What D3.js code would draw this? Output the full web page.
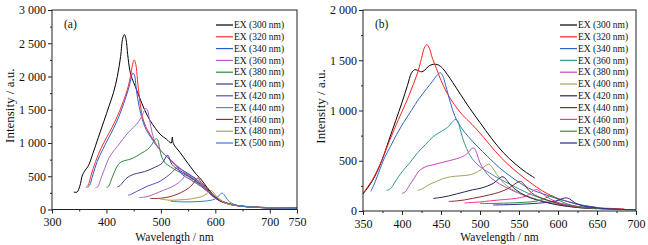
<!DOCTYPE html>
<html>
<head>
<meta charset="utf-8">
<script src="https://cdn.jsdelivr.net/npm/d3@7/dist/d3.min.js"></script>
<style>
    body { margin: 0; background: #fff; }
    svg { display: block; font-family: "Liberation Serif", "Times New Roman", serif; }
    .tickLabel { font-size: 12px; fill: #111; }
    .axisTitle { font-size: 11.5px; fill: #111; }
    .yTitle { font-size: 13px; fill: #111; }
    .legendText { font-size: 9.5px; fill: #111; }
</style>
</head>
<body>
<div id="chart"></div>
<script>
    "use strict";

    var legendLabels = ["EX (300 nm)", "EX (320 nm)", "EX (340 nm)", "EX (360 nm)", "EX (380 nm)", "EX (400 nm)",
        "EX (420 nm)", "EX (440 nm)", "EX (460 nm)", "EX (480 nm)", "EX (500 nm)"];

    // panel (a): [wavelength nm, intensity a.u.]
    var a300 = [[340, 262], [346, 262], [351, 350], [356, 520], [361, 590], [367, 660], [375, 840], [385, 1080], [395, 1320], [405, 1560], [413, 1760], [420, 2000], [426, 2300], [430, 2580], [433, 2630], [436, 2560], [439, 2330], [443, 2090], [447, 1970], [453, 1850], [460, 1700], [470, 1500], [480, 1340], [490, 1220], [500, 1120], [510, 1060], [519, 1000], [521, 1090], [523, 990], [535, 860], [550, 690], [565, 530], [575, 440], [585, 330], [595, 230], [605, 160], [620, 100], [640, 60], [670, 35], [700, 25], [750, 20]];
    var a320 = [[362, 330], [366, 360], [372, 520], [380, 720], [390, 920], [400, 1080], [410, 1230], [420, 1400], [428, 1560], [435, 1720], [440, 1850], [444, 2000], [448, 2180], [451, 2250], [454, 2180], [457, 1950], [461, 1650], [466, 1400], [472, 1250], [480, 1130], [490, 1000], [500, 880], [515, 760], [530, 640], [545, 560], [560, 480], [570, 420], [580, 330], [590, 240], [600, 170], [615, 110], [630, 70], [660, 40], [700, 25], [750, 20]];
    var a340 = [[365, 330], [369, 360], [375, 520], [383, 720], [393, 900], [403, 1060], [413, 1220], [423, 1400], [432, 1600], [440, 1800], [445, 1960], [448, 2050], [451, 2030], [455, 1800], [460, 1550], [466, 1350], [473, 1200], [482, 1080], [492, 960], [505, 840], [520, 730], [535, 620], [550, 540], [563, 470], [575, 380], [585, 290], [595, 210], [608, 140], [625, 85], [650, 50], [700, 28], [750, 20]];
    var a360 = [[380, 330], [384, 340], [390, 470], [397, 620], [405, 780], [415, 900], [425, 1000], [435, 1110], [445, 1200], [455, 1280], [462, 1360], [468, 1460], [472, 1520], [475, 1500], [479, 1350], [484, 1150], [490, 1000], [498, 900], [508, 820], [520, 720], [535, 620], [550, 520], [565, 440], [578, 360], [590, 260], [600, 180], [615, 110], [635, 65], [660, 40], [700, 25], [750, 20]];
    var a380 = [[400, 330], [404, 350], [410, 470], [416, 590], [422, 680], [428, 720], [436, 740], [445, 760], [455, 800], [465, 850], [475, 900], [482, 960], [488, 1040], [492, 1065], [495, 1030], [498, 900], [502, 780], [508, 700], [518, 640], [530, 580], [545, 520], [560, 450], [573, 380], [585, 290], [597, 200], [610, 130], [630, 75], [660, 40], [700, 25], [750, 18]];
    var a400 = [[420, 340], [425, 360], [432, 430], [440, 490], [450, 530], [460, 550], [470, 570], [480, 600], [490, 640], [500, 680], [506, 740], [510, 800], [513, 815], [516, 760], [520, 680], [528, 620], [540, 560], [555, 480], [568, 400], [580, 320], [592, 230], [605, 150], [620, 95], [645, 55], [680, 32], [750, 18]];
    var a420 = [[440, 215], [446, 230], [455, 270], [465, 310], [475, 350], [485, 380], [495, 410], [505, 460], [515, 520], [523, 580], [528, 620], [531, 630], [534, 580], [540, 520], [550, 470], [562, 410], [575, 340], [587, 260], [600, 170], [615, 110], [635, 65], [670, 35], [750, 18]];
    var a440 = [[460, 180], [468, 185], [478, 200], [490, 240], [505, 290], [520, 340], [532, 400], [540, 460], [545, 520], [548, 540], [551, 500], [556, 440], [565, 400], [577, 340], [588, 260], [600, 170], [615, 105], [640, 60], [680, 30], [750, 18]];
    var a460 = [[480, 165], [488, 165], [500, 170], [515, 190], [530, 230], [545, 290], [555, 350], [562, 420], [566, 465], [569, 470], [572, 430], [578, 380], [586, 300], [596, 200], [608, 130], [625, 80], [650, 50], [700, 28], [750, 18]];
    var a480 = [[498, 160], [505, 150], [515, 140], [525, 140], [535, 145], [545, 150], [555, 160], [565, 175], [575, 195], [583, 230], [589, 270], [592, 285], [595, 270], [600, 220], [607, 160], [615, 110], [630, 70], [655, 45], [700, 28], [750, 18]];
    var a500 = [[518, 125], [525, 120], [540, 115], [555, 115], [570, 120], [585, 130], [595, 145], [602, 170], [607, 210], [611, 245], [614, 240], [618, 200], [623, 140], [630, 95], [640, 60], [660, 40], [700, 25], [750, 15]];

    // panel (b)
    var b300 = [[350, 170], [355, 220], [362, 300], [368, 390], [375, 520], [383, 700], [392, 900], [400, 1080], [407, 1250], [412, 1370], [416, 1405], [420, 1400], [425, 1385], [429, 1400], [434, 1440], [440, 1460], [446, 1455], [452, 1420], [458, 1360], [465, 1280], [475, 1160], [487, 1020], [500, 880], [515, 720], [530, 580], [545, 470], [558, 390], [570, 330]];
    var b320 = [[350, 175], [355, 230], [362, 310], [368, 400], [375, 520], [383, 680], [391, 830], [400, 990], [408, 1130], [415, 1270], [421, 1400], [426, 1550], [429, 1630], [432, 1655], [435, 1620], [439, 1520], [444, 1420], [450, 1300], [458, 1170], [467, 1060], [477, 960], [490, 860], [505, 730], [520, 590], [535, 470], [550, 370], [565, 280], [580, 200], [595, 140], [610, 100], [625, 65], [640, 45], [655, 30], [670, 25], [685, 20]];
    var b340 = [[360, 195], [364, 260], [370, 380], [377, 520], [385, 640], [393, 760], [402, 880], [412, 1000], [422, 1120], [432, 1220], [440, 1300], [446, 1360], [449, 1375], [452, 1350], [456, 1250], [462, 1080], [468, 940], [475, 840], [485, 740], [497, 640], [510, 540], [525, 430], [540, 340], [555, 260], [570, 200], [585, 160], [600, 120], [615, 90], [630, 60], [650, 35]];
    var b360 = [[380, 205], [385, 220], [392, 300], [400, 390], [410, 480], [420, 580], [430, 660], [440, 740], [450, 790], [458, 830], [464, 880], [468, 910], [471, 905], [474, 830], [478, 720], [483, 620], [490, 520], [500, 440], [512, 380], [525, 320], [540, 260], [555, 200], [570, 150], [585, 110], [600, 80], [620, 50], [640, 30], [660, 20]];
    var b380 = [[400, 175], [404, 190], [410, 260], [416, 330], [422, 400], [430, 440], [440, 460], [450, 480], [460, 500], [470, 520], [480, 550], [486, 590], [490, 625], [493, 620], [496, 570], [500, 480], [506, 400], [514, 330], [525, 270], [540, 210], [555, 160], [570, 120], [590, 80], [610, 50], [640, 25]];
    var b400 = [[420, 205], [426, 220], [434, 260], [443, 290], [452, 320], [462, 340], [475, 350], [487, 360], [497, 390], [504, 430], [509, 460], [512, 465], [516, 430], [522, 360], [530, 280], [540, 220], [553, 170], [567, 130], [582, 95], [600, 65], [620, 40], [645, 22]];
    var b420 = [[440, 125], [450, 135], [460, 150], [470, 170], [480, 190], [490, 210], [500, 225], [510, 250], [518, 280], [524, 320], [528, 340], [531, 335], [536, 290], [543, 230], [552, 180], [565, 130], [580, 95], [600, 60], [625, 35], [650, 22]];
    var b440 = [[460, 95], [470, 100], [480, 110], [490, 125], [500, 140], [512, 160], [524, 185], [535, 220], [543, 260], [549, 290], [552, 295], [556, 270], [562, 210], [570, 160], [582, 120], [600, 75], [625, 40], [650, 25], [680, 15]];
    var b460 = [[480, 80], [490, 85], [500, 90], [512, 100], [525, 110], [540, 120], [553, 135], [562, 160], [568, 200], [572, 215], [576, 200], [582, 160], [590, 120], [602, 80], [620, 50], [645, 30], [670, 20], [690, 12]];
    var b480 = [[500, 75], [515, 75], [530, 78], [545, 82], [560, 88], [572, 98], [580, 115], [587, 140], [591, 150], [595, 140], [601, 110], [610, 75], [625, 45], [645, 28], [670, 18], [700, 12]];
    var b500 = [[517, 60], [530, 62], [545, 65], [560, 70], [575, 78], [590, 90], [600, 105], [606, 125], [611, 130], [615, 120], [621, 85], [630, 55], [645, 35], [665, 22], [700, 12]];

    var xTicksA = [300, 400, 500, 600, 700, 750];
    var xMinorA = [350, 450, 550, 650];
    var yTicksA = [0, 500, 1000, 1500, 2000, 2500, 3000];
    var yMinorA = [250, 750, 1250, 1750, 2250, 2750];

    var xTicksB = [350, 400, 450, 500, 550, 600, 650, 700];
    var xMinorB = [375, 425, 475, 525, 575, 625, 675];
    var yTicksB = [0, 500, 1000, 1500, 2000];
    var yMinorB = [250, 750, 1250, 1750];

    var colorsA = ["#000000", "#ff2a2a", "#2a5fd0", "#b064c8", "#2f8a3a", "#3a3a80", "#5b48c8", "#a466b8", "#a02a2a", "#a8a048", "#3a7ad0"];
    var colorsB = ["#000000", "#ff2020", "#2f66c8", "#349a94", "#c04cc0", "#a8a060", "#252560", "#7a3030", "#ff3090", "#2e9040", "#2a2a90"];

    var width = 648;
    var height = 245;

    var svg = d3.select("#chart").append("svg")
        .attr("width", width)
        .attr("height", height);

    svg.append("rect").attr("width", width).attr("height", height).attr("fill", "#fff");

    var fmt = d3.formatLocale({ decimal: ".", thousands: " ", grouping: [3], currency: ["", ""] }).format(",");

    function drawPanel(p) {
        var x = d3.scaleLinear().domain(p.xDomain).range([p.left, p.right]);
        var y = d3.scaleLinear().domain(p.yDomain).range([p.bottom, p.top]);
        var g = svg.append("g");

        var line = d3.line()
            .x(function (d) { return x(d[0]); })
            .y(function (d) { return y(d[1]); })
            .curve(d3.curveCatmullRom.alpha(0.5));

        g.selectAll(".curve")
            .data(p.series)
            .enter()
            .append("path")
            .attr("class", "curve")
            .attr("d", line)
            .attr("fill", "none")
            .attr("stroke", function (d, i) { return p.colors[i]; })
            .attr("stroke-width", 1);

        // frame
        g.append("rect")
            .attr("x", p.left)
            .attr("y", p.top)
            .attr("width", p.right - p.left)
            .attr("height", p.bottom - p.top)
            .attr("fill", "none")
            .attr("stroke", "#222")
            .attr("stroke-width", 1);

        var xAxis = d3.axisBottom(x).tickValues(p.xTicks).tickSize(4).tickPadding(4).tickFormat(d3.format("d"));
        var xMinor = d3.axisBottom(x).tickValues(p.xMinor).tickSize(2).tickFormat("");
        var yAxis = d3.axisLeft(y).tickValues(p.yTicks).tickSize(4).tickPadding(2).tickFormat(fmt);
        var yMinor = d3.axisLeft(y).tickValues(p.yMinor).tickSize(2).tickFormat("");

        [[xAxis, "translate(0," + p.bottom + ")"], [xMinor, "translate(0," + p.bottom + ")"],
            [yAxis, "translate(" + p.left + ",0)"], [yMinor, "translate(" + p.left + ",0)"]].forEach(function (a) {
            var ax = g.append("g").attr("transform", a[1]).call(a[0]);
            ax.attr("font-family", null).attr("font-size", null);
            ax.select(".domain").remove();
            ax.selectAll("line").attr("stroke", "#222");
            ax.selectAll("text")
                .attr("class", "tickLabel")
                .attr("fill", null);
        });

        g.append("text")
            .attr("class", "axisTitle")
            .attr("text-anchor", "middle")
            .attr("x", (p.left + p.right) / 2)
            .attr("y", 241)
            .text("Wavelength / nm");

        g.append("text")
            .attr("class", "yTitle")
            .attr("text-anchor", "middle")
            .attr("transform", "translate(" + (p.left - 38) + "," + ((p.top + p.bottom) / 2 - 4) + ") rotate(-90)")
            .text("Intensity / a.u.");

        g.append("text")
            .attr("class", "axisTitle")
            .attr("x", p.left + 12)
            .attr("y", p.top + 18)
            .text(p.tag);

        var legend = g.selectAll(".legendRow")
            .data(legendLabels)
            .enter()
            .append("g")
            .attr("transform", function (d, i) { return "translate(" + p.legendX + "," + (25 + i * 11.8) + ")"; });

        legend.append("line")
            .attr("x1", 0)
            .attr("x2", 17)
            .attr("stroke", function (d, i) { return p.colors[i]; })
            .attr("stroke-width", 1.2);

        legend.append("text")
            .attr("class", "legendText")
            .attr("x", 18)
            .attr("dy", "0.33em")
            .text(function (d) { return d; });
    }

    drawPanel({
        left: 52, right: 297, top: 10, bottom: 209.5,
        xDomain: [300, 750], yDomain: [0, 3000],
        xTicks: xTicksA, xMinor: xMinorA, yTicks: yTicksA, yMinor: yMinorA,
        series: [a300, a320, a340, a360, a380, a400, a420, a440, a460, a480, a500],
        colors: colorsA, legendX: 216, tag: "(a)"
    });

    drawPanel({
        left: 363, right: 636, top: 10, bottom: 211,
        xDomain: [350, 700], yDomain: [0, 2000],
        xTicks: xTicksB, xMinor: xMinorB, yTicks: yTicksB, yMinor: yMinorB,
        series: [b300, b320, b340, b360, b380, b400, b420, b440, b460, b480, b500],
        colors: colorsB, legendX: 560, tag: "(b)"
    });
</script>
</body>
</html>
